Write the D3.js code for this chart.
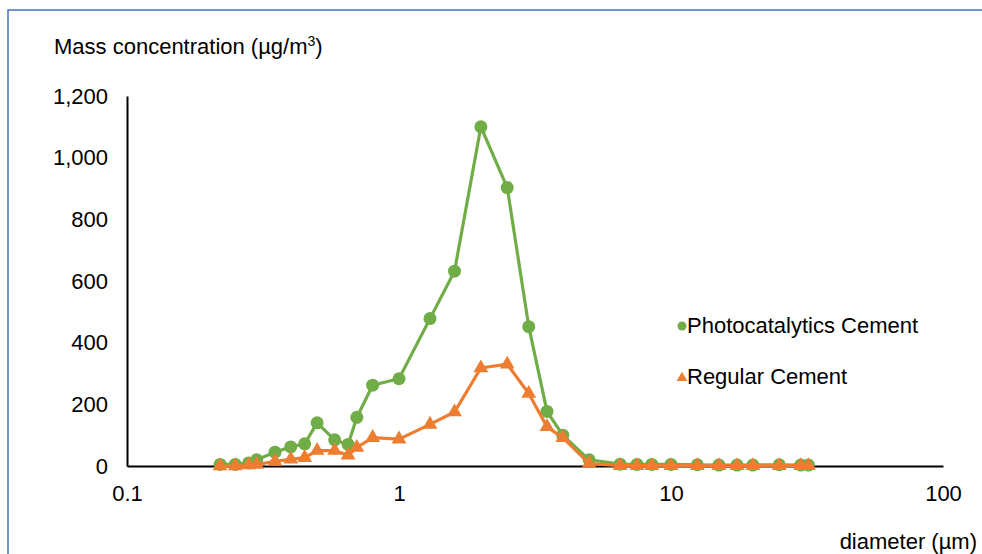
<!DOCTYPE html>
<html>
<head>
<meta charset="utf-8">
<script src="https://d3js.org/d3.v7.min.js"></script>
<style>
  body { margin: 0; background: #fff; }
  svg text { font-family: "Liberation Sans", Arial, sans-serif; fill: #000; }
</style>
</head>
<body>
<svg id="chart" width="982" height="554"></svg>
<script>
// particle diameters (µm)
var diameters = [0.22, 0.25, 0.28, 0.30, 0.35, 0.40, 0.45, 0.50, 0.58, 0.65, 0.70, 0.80,
  1.0, 1.3, 1.6, 2.0, 2.5, 3.0, 3.5, 4.0, 5.0, 6.5, 7.5, 8.5, 10, 12.5, 15, 17.5, 20, 25, 30, 32];

var photoValues = [5, 5, 10, 20, 45, 62, 72, 140, 85, 70, 158, 262,
  283, 478, 632, 1100, 903, 452, 177, 100, 20, 6, 5, 5, 5, 4, 3, 3, 3, 4, 3, 3];

var regularValues = [0, 0, 3, 5, 15, 22, 27, 50, 50, 35, 60, 92,
  87, 135, 175, 318, 330, 235, 127, 92, 8, 1, 1, 1, 1, 1, 1, 1, 1, 1, 1, 1];

var xTicks = [0.1, 1, 10, 100];
var yTicks = [0, 200, 400, 600, 800, 1000, 1200];

var seriesNames = ["Photocatalytics Cement", "Regular Cement"];
var green = "#70ad47", orange = "#ed7d31";
var fs = "22px";

var svg = d3.select("#chart");

// frame
svg.append("path")
  .attr("d", "M8,560 L8,10 L990,10")
  .attr("fill", "none")
  .attr("stroke", "#4472c4")
  .attr("stroke-width", 1.5);

var x = d3.scaleLog().domain([0.1, 100]).range([127, 943]);
var y = d3.scaleLinear().domain([0, 1200]).range([466, 96]);

var fmt = d3.format(",");

// axes
var yAxis = d3.axisLeft(y).tickValues(yTicks).tickSize(0).tickPadding(19).tickFormat(fmt);
var gy = svg.append("g").attr("transform", "translate(127,0)").call(yAxis);
gy.select(".domain").attr("stroke", "#000").attr("stroke-width", 2);
gy.selectAll("text").style("font-size", fs);

var xAxis = d3.axisBottom(x).tickValues(xTicks).tickSize(0).tickPadding(19)
  .tickFormat(function(d){ return d < 1 ? d3.format(".1f")(d) : d3.format("d")(d); });
var gx = svg.append("g").attr("transform", "translate(0,466)").call(xAxis);
gx.select(".domain").attr("stroke", "#000").attr("stroke-width", 2);
gx.selectAll("text").style("font-size", fs);

// titles
var yt = svg.append("text").attr("x", 54).attr("y", 54).style("font-size", fs);
yt.append("tspan").text("Mass concentration (µg/m");
yt.append("tspan").attr("dy", -8).style("font-size", "14px").text("3");
yt.append("tspan").attr("dy", 8).text(")");

svg.append("text").attr("x", 977).attr("y", 549).attr("text-anchor", "end")
  .style("font-size", fs).text("diameter (µm)");

// series
var photo = diameters.map(function(d, i){ return {d: d, v: photoValues[i]}; });
var regular = diameters.map(function(d, i){ return {d: d, v: regularValues[i]}; });

var line = d3.line().x(function(p){ return x(p.d); }).y(function(p){ return y(p.v); });

var tri = d3.symbol().type(d3.symbolTriangle).size(95);

svg.append("path").datum(photo).attr("d", line)
  .attr("fill", "none").attr("stroke", green).attr("stroke-width", 3.2);
svg.selectAll(".dotP").data(photo).enter().append("circle")
  .attr("class", "dotP")
  .attr("cx", function(p){ return x(p.d); })
  .attr("cy", function(p){ return y(p.v); })
  .attr("r", 6.5)
  .attr("fill", green);

svg.append("path").datum(regular).attr("d", line)
  .attr("fill", "none").attr("stroke", orange).attr("stroke-width", 3.2);
svg.selectAll(".dotR").data(regular).enter().append("path")
  .attr("class", "dotR")
  .attr("d", tri)
  .attr("transform", function(p){ return "translate(" + x(p.d) + "," + y(p.v) + ")"; })
  .attr("fill", orange);

// legend
var leg = svg.append("g");
leg.append("circle").attr("cx", 682).attr("cy", 326).attr("r", 4.5).attr("fill", green);
leg.append("text").attr("x", 687).attr("y", 333).style("font-size", fs).text(seriesNames[0]);
leg.append("path").attr("d", d3.symbol().type(d3.symbolTriangle).size(50))
  .attr("transform", "translate(682,378)").attr("fill", orange);
leg.append("text").attr("x", 687).attr("y", 384).style("font-size", fs).text(seriesNames[1]);
</script>
</body>
</html>
